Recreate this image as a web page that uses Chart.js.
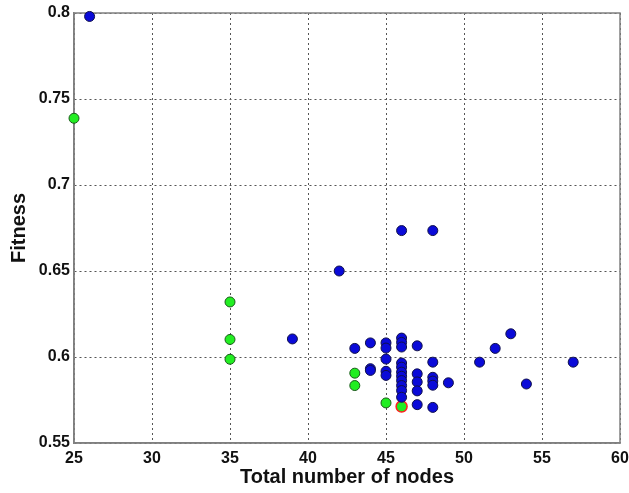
<!DOCTYPE html>
<html>
<head>
<meta charset="utf-8">
<script src="https://cdn.jsdelivr.net/npm/chart.js@4.4.0/dist/chart.umd.min.js"></script>
<style>
html,body{margin:0;padding:0;background:#fff;}
canvas{display:block;}
</style>
</head>
<body>
<canvas id="c" width="629" height="493"></canvas>
<script>
// Data
const xTicks = [25, 30, 35, 40, 45, 50, 55, 60];
const yTicks = [0.55, 0.6, 0.65, 0.7, 0.75, 0.8];

const blueNodes = [26, 39, 42, 43, 44, 44, 44, 45, 45, 45, 45, 45,
  46, 46, 46, 46, 46, 46, 46, 46, 46, 46, 46, 46,
  47, 47, 47, 47, 47, 48, 48, 48, 48, 48, 48, 49, 51, 52, 53, 54, 57];
const blueFitness = [0.798, 0.6105, 0.65, 0.605, 0.6082, 0.5932, 0.5922, 0.6082, 0.6052, 0.5988, 0.5917, 0.5893,
  0.6735, 0.611, 0.6085, 0.6058, 0.5965, 0.5941, 0.5912, 0.5888, 0.5863, 0.5834, 0.5805, 0.5766,
  0.6065, 0.5902, 0.5855, 0.5803, 0.5723, 0.6735, 0.597, 0.5882, 0.586, 0.5836, 0.5707, 0.585, 0.597, 0.605, 0.6135, 0.5843, 0.597];

const greenNodes = [25, 35, 35, 35, 43, 43, 45];
const greenFitness = [0.7388, 0.632, 0.6102, 0.5987, 0.5906, 0.5834, 0.5733];

const bestNodes = [46];
const bestFitness = [0.5712];

function pts(xs, ys){ return xs.map((x,i)=>({x:x, y:ys[i]})); }

const boxPlugin = {
  id: 'box',
  beforeDatasetsDraw(chart){
    const {ctx, chartArea:a} = chart;
    ctx.save();
    ctx.strokeStyle = '#808080';
    ctx.lineWidth = 1.5;
    ctx.strokeRect(a.left, a.top, a.right - a.left, a.bottom - a.top);
    ctx.restore();
  }
};

const tickFont = {family: '"Liberation Sans", Arial, sans-serif', size: 16, weight: 'bold'};
const titleFont = {family: '"Liberation Sans", Arial, sans-serif', size: 20, weight: 'bold'};

new Chart(document.getElementById('c'), {
  type: 'scatter',
  data: {
    datasets: [
      {label: 'blue', data: pts(blueNodes, blueFitness), backgroundColor: '#0a0ad8', borderColor: '#10104a', borderWidth: 1, pointRadius: 5, pointHoverRadius: 5},
      {label: 'green', data: pts(greenNodes, greenFitness), backgroundColor: '#22ee22', borderColor: '#1a5a1a', borderWidth: 1, pointRadius: 5, pointHoverRadius: 5},
      {label: 'best', data: pts(bestNodes, bestFitness), backgroundColor: '#22ee22', borderColor: '#ff2020', borderWidth: 1.5, pointRadius: 5.5, pointHoverRadius: 5.5}
    ]
  },
  options: {
    responsive: false,
    animation: false,
    events: [],
    clip: false,
    layout: {padding: {top: 13, right: 9, bottom: 0, left: 0}},
    plugins: {legend: {display: false}, tooltip: {enabled: false}},
    scales: {
      x: {
        type: 'linear', min: 25, max: 60,
        afterBuildTicks(scale){ scale.ticks = xTicks.map(v=>({value:v})); },
        afterFit(scale){ scale.height = 50; scale.paddingLeft = 0; scale.paddingRight = 0; },
        grid: {color: '#555', lineWidth: 1, drawTicks: false},
        border: {display: true, color: '#808080', width: 1.5, dash: [2,3]},
        ticks: {color: '#111', font: tickFont, padding: 6, maxRotation: 0, callback: v => String(v)},
        title: {display: true, text: 'Total number of nodes', color: '#111', font: titleFont, padding: {top: 0, bottom: 4}}
      },
      y: {
        type: 'linear', min: 0.55, max: 0.8,
        afterBuildTicks(scale){ scale.ticks = yTicks.map(v=>({value:v})); },
        afterFit(scale){ scale.width = 74; scale.paddingTop = 0; scale.paddingBottom = 0; },
        grid: {color: '#555', lineWidth: 1, drawTicks: false},
        border: {display: true, color: '#808080', width: 1.5, dash: [2,3]},
        ticks: {color: '#111', font: tickFont, padding: 4, callback: v => String(v)},
        title: {display: true, text: 'Fitness', color: '#111', font: titleFont, padding: {top: 7, bottom: 0}}
      }
    }
  },
  plugins: [boxPlugin]
});
</script>
</body>
</html>
